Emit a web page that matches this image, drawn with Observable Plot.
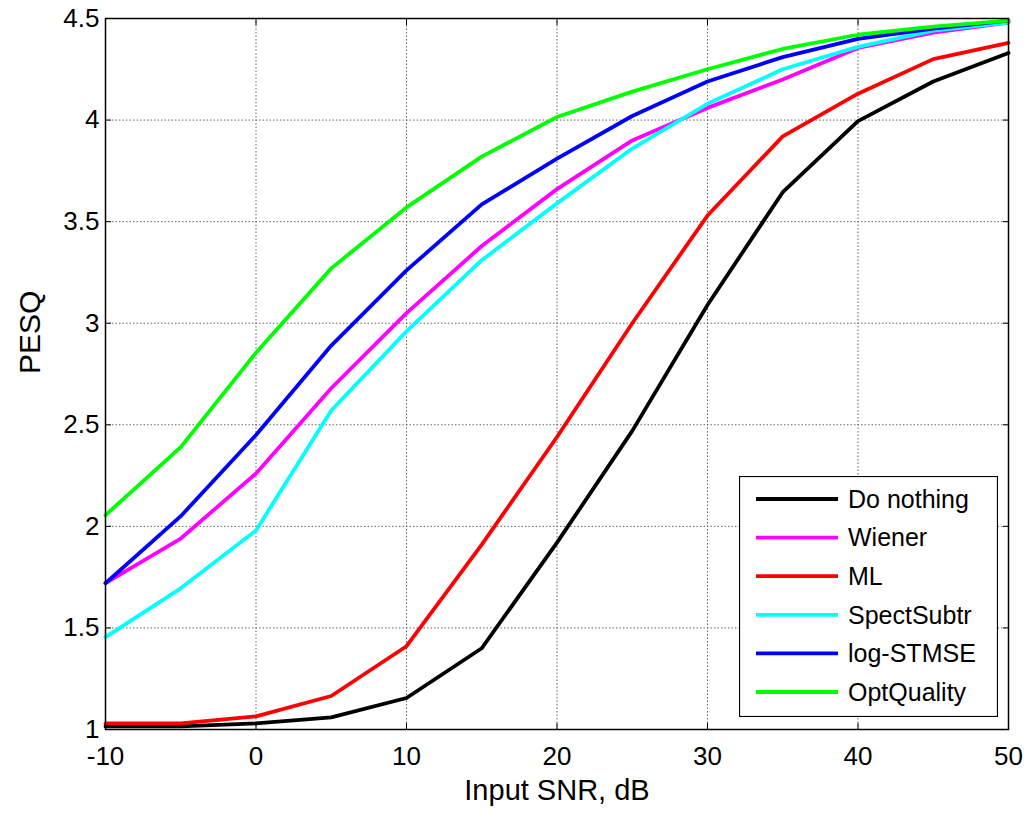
<!DOCTYPE html>
<html>
<head>
<meta charset="utf-8">
<script src="https://cdn.jsdelivr.net/npm/d3@7"></script>
<script src="https://cdn.jsdelivr.net/npm/@observablehq/plot@0.6"></script>
<style>
  html, body { margin: 0; padding: 0; background: #fff; }
  #wrap { position: relative; width: 1030px; height: 814px; }
  #legend { position: absolute; left: 739px; top: 476px; }
</style>
</head>
<body>
<div id="wrap"></div>
<script>
// ---- data ----
const snr = [-10, -5, 0, 5, 10, 15, 20, 25, 30, 35, 40, 45, 50];
const seriesNames = ["Do nothing", "Wiener", "ML", "SpectSubtr", "log-STMSE", "OptQuality"];
const seriesColors = ["#000000", "#ff00ff", "#ff0000", "#00ffff", "#0000ff", "#00ff00"];
const doNothing  = [1.015, 1.015, 1.03, 1.06, 1.155, 1.40, 1.92, 2.47, 3.09, 3.645, 3.995, 4.19, 4.33];
const wiener     = [1.72, 1.94, 2.26, 2.68, 3.05, 3.38, 3.66, 3.90, 4.06, 4.20, 4.355, 4.43, 4.48];
const ml         = [1.03, 1.03, 1.065, 1.165, 1.41, 1.91, 2.44, 3.00, 3.53, 3.92, 4.13, 4.30, 4.38];
const spectSub   = [1.455, 1.695, 1.98, 2.57, 2.96, 3.31, 3.59, 3.86, 4.08, 4.25, 4.36, 4.44, 4.48];
const logStmse   = [1.72, 2.05, 2.45, 2.89, 3.26, 3.585, 3.81, 4.02, 4.19, 4.31, 4.40, 4.45, 4.49];
const optQuality = [2.055, 2.39, 2.855, 3.27, 3.57, 3.82, 4.015, 4.14, 4.25, 4.35, 4.42, 4.46, 4.49];
const xTicks = [-10, 0, 10, 20, 30, 40, 50];
const yTicks = [1, 1.5, 2, 2.5, 3, 3.5, 4, 4.5];
const xLabel = "Input SNR, dB";
const yLabel = "PESQ";

const allSeries = [doNothing, wiener, ml, spectSub, logStmse, optQuality];
const rows = [];
allSeries.forEach((vals, i) => {
  vals.forEach((v, j) => rows.push({series: seriesNames[i], snr: snr[j], pesq: v}));
});

const font = "'Liberation Sans', Arial, Helvetica, sans-serif";
const gridStyle = {stroke: "#555", strokeOpacity: 0.9, strokeDasharray: "1.5,2", strokeWidth: 1};

const chart = Plot.plot({
  width: 1030,
  height: 814,
  marginLeft: 105,
  marginRight: 22,
  marginTop: 18,
  marginBottom: 85,
  style: {fontFamily: font, background: "#fff", color: "#000"},
  x: {domain: [-10, 50]},
  y: {domain: [1, 4.5]},
  color: {domain: seriesNames, range: seriesColors},
  marks: [
    Plot.gridX(xTicks, {...gridStyle}),
    Plot.gridY(yTicks, {...gridStyle}),
    Plot.line(rows, {x: "snr", y: "pesq", z: "series", stroke: "series", strokeWidth: 3.8, strokeLinejoin: "round", sort: null}),
    Plot.frame({stroke: "#000", strokeWidth: 1.5}),
    // inward ticks on all four sides
    Plot.axisX(xTicks, {anchor: "bottom", tickSize: 6, dy: -6, fill: "none", label: null, tickFormat: () => ""}),
    Plot.axisX(xTicks, {anchor: "top", tickSize: 6, dy: 6, fill: "none", label: null, tickFormat: () => ""}),
    Plot.axisY(yTicks, {anchor: "left", tickSize: 6, dx: 6, fill: "none", label: null, tickFormat: () => ""}),
    Plot.axisY(yTicks, {anchor: "right", tickSize: 6, dx: -6, fill: "none", label: null, tickFormat: () => ""}),
    // tick labels
    Plot.axisX(xTicks, {anchor: "bottom", tickSize: 0, tickPadding: 17, fontSize: 26, label: null, tickFormat: d => String(d)}),
    Plot.axisY(yTicks, {anchor: "left", tickSize: 0, tickPadding: 6, fontSize: 26, label: null, tickFormat: d => String(d)}),
    // axis titles
    Plot.text([xLabel], {frameAnchor: "bottom", text: d => d, dy: 61, fontSize: 29, lineAnchor: "middle"}),
    Plot.text([yLabel], {frameAnchor: "left", text: d => d, dx: -75, rotate: -90, fontSize: 30, lineAnchor: "middle"})
  ]
});

const wrap = document.getElementById("wrap");
wrap.appendChild(chart);

// ---- legend (MATLAB-style box inside the axes) ----
const lw = 259, lh = 241, rowGap = 38.6, firstRow = 23;
const leg = d3.create("svg")
  .attr("id", "legend")
  .attr("width", lw)
  .attr("height", lh)
  .style("font-family", font);
leg.append("rect")
  .attr("x", 0.5).attr("y", 0.5)
  .attr("width", lw - 1).attr("height", lh - 1)
  .attr("fill", "#fff").attr("stroke", "#000").attr("stroke-width", 1.2);
seriesNames.forEach((name, i) => {
  const cy = firstRow + i * rowGap;
  leg.append("line")
    .attr("x1", 17).attr("x2", 99)
    .attr("y1", cy).attr("y2", cy)
    .attr("stroke", seriesColors[i]).attr("stroke-width", 3.8);
  leg.append("text")
    .attr("x", 109).attr("y", cy)
    .attr("dy", "0.35em")
    .attr("font-size", 25)
    .attr("fill", "#000")
    .text(name);
});
wrap.appendChild(leg.node());
</script>
</body>
</html>
